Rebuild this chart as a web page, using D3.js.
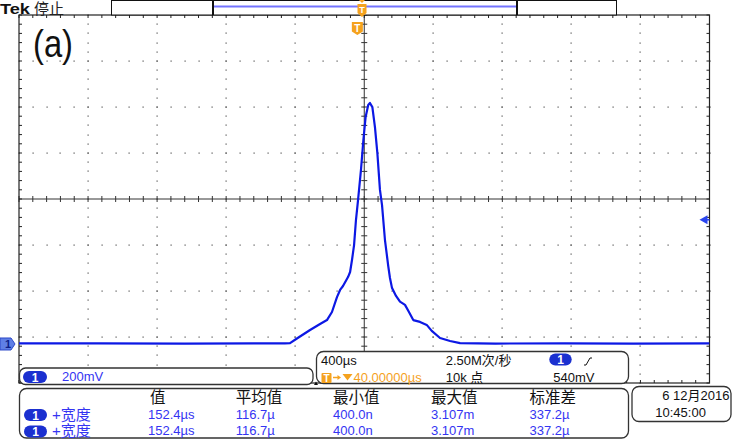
<!DOCTYPE html>
<html><head><meta charset="utf-8">
<script src="https://cdn.jsdelivr.net/npm/d3@7"></script>
<style>
body{margin:0;background:#fff}
svg{display:block}
text{font-family:"Liberation Sans","Noto Sans CJK SC",sans-serif}
</style>
</head><body><svg id="c" width="736" height="441"></svg>
<script>
// ---- data ----
const timeUs = [-1960,-1500,-1000,-600,-420,-390,-350,-274,-216,-176,-147,-118,-100,-83,-54,-42,-31,-19,-8,4,21,35,48,63,73,87,102,116,131,143,160,179,189,201,224,247,276,299,324,363,402,431,479,537,595,800,1200,1600,2040];
const volts  = [0.003,0.003,0.002,0.003,0.003,0.004,0.024,0.061,0.087,0.104,0.139,0.204,0.235,0.252,0.291,0.313,0.365,0.430,0.539,0.626,0.757,0.887,0.987,1.039,1.048,1.030,0.943,0.830,0.670,0.604,0.452,0.339,0.287,0.243,0.209,0.184,0.170,0.139,0.104,0.096,0.083,0.057,0.026,0.013,0.004,0.002,0.003,0.002,0.003];
const measHeaders = ["值","平均值","最小值","最大值","标准差"];
const measName = "+宽度";
const measRow1 = ["152.4µs","116.7µ","400.0n","3.107m","337.2µ"];
const measRow2 = ["152.4µs","116.7µ","400.0n","3.107m","337.2µ"];
const chScaleLabel = "200mV";
const timebaseLabel = "400µs";
const sampleRateLabel = "2.50M次/秒";
const recordLabel = "10k 点";
const trigPosLabel = "40.00000µs";
const trigLevelLabel = "540mV";
const dateLabel = "6 12月2016";
const clockLabel = "10:45:00";
const voltsPerDiv = 0.2, usPerDiv = 400, groundDiv = -3.152, trigOffsetUs = 40, trigLevelV = 0.54;

// ---- layout ----
const L = 19, R = 709.5, T = 15, B = 383;
const svg = d3.select("#c");
const blue = "#0c18e4", textBlue = "#3434f2", pillBlue = "#1b30d0", orange = "#f5a21e";

const xDiv = d3.scaleLinear().domain([-5,5]).range([L,R]);
const yDiv = d3.scaleLinear().domain([-4,4]).range([B,T]);
const x = d3.scaleLinear().domain([trigOffsetUs-5*usPerDiv, trigOffsetUs+5*usPerDiv]).range([L,R]);
const y = d3.scaleLinear().domain([(-4-groundDiv)*voltsPerDiv,(4-groundDiv)*voltsPerDiv]).range([B,T]);

// grid dots
const grid = svg.append("g");
const minorX = d3.range(-25,26).map(d=>d/5), minorY = d3.range(-20,21).map(d=>d/5);
[-4,-3,-2,-1,1,2,3,4].forEach(i=>{
  minorY.forEach(j=>grid.append("rect").attr("x",Math.round(xDiv(i))-0.5).attr("y",Math.round(yDiv(j))-0.5).attr("width",1.2).attr("height",1.2).attr("fill","#555"));
});
[-3,-2,-1,1,2,3].forEach(k=>{
  minorX.forEach(j=>grid.append("rect").attr("x",Math.round(xDiv(j))-0.5).attr("y",Math.round(yDiv(k))-0.5).attr("width",1.2).attr("height",1.2).attr("fill","#555"));
});
// center cross
const cx = xDiv(0), cy = yDiv(0);
grid.append("line").attr("x1",cx).attr("x2",cx).attr("y1",T).attr("y2",B).attr("stroke","#333").attr("stroke-width",1);
grid.append("line").attr("x1",L).attr("x2",R).attr("y1",cy).attr("y2",cy).attr("stroke","#333").attr("stroke-width",1);
minorY.forEach(j=>grid.append("line").attr("x1",cx-3).attr("x2",cx+3).attr("y1",yDiv(j)).attr("y2",yDiv(j)).attr("stroke","#333"));
minorX.forEach(j=>grid.append("line").attr("y1",cy-3).attr("y2",cy+3).attr("x1",xDiv(j)).attr("x2",xDiv(j)).attr("stroke","#333"));
// border
grid.append("rect").attr("x",L).attr("y",T).attr("width",R-L).attr("height",B-T).attr("fill","none").attr("stroke","#222").attr("stroke-width",1.2);
minorX.forEach(j=>{
  grid.append("line").attr("x1",xDiv(j)).attr("x2",xDiv(j)).attr("y1",T).attr("y2",T+3).attr("stroke","#222");
  grid.append("line").attr("x1",xDiv(j)).attr("x2",xDiv(j)).attr("y1",B).attr("y2",B-3).attr("stroke","#222");
});
minorY.forEach(j=>{
  grid.append("line").attr("y1",yDiv(j)).attr("y2",yDiv(j)).attr("x1",L).attr("x2",L+3).attr("stroke","#222");
  grid.append("line").attr("y1",yDiv(j)).attr("y2",yDiv(j)).attr("x1",R).attr("x2",R-3).attr("stroke","#222");
});

// trace
svg.append("clipPath").attr("id","pc").append("rect").attr("x",L).attr("y",T).attr("width",R-L).attr("height",B-T);
const pts = timeUs.map((t,i)=>[t,volts[i]]);
svg.append("path").datum(pts).attr("clip-path","url(#pc)")
  .attr("d",d3.line().x(d=>x(d[0])).y(d=>y(d[1])))
  .attr("fill","none").attr("stroke",blue).attr("stroke-width",2.2).attr("stroke-linejoin","round");

// ground marker (left)
const gy = y(0);
svg.append("path").attr("d",`M0,${gy-6} L11,${gy-6} L15,${gy} L11,${gy+6} L0,${gy+6} Z`).attr("fill","#5f7fe6").attr("stroke","#2d49c8");
svg.append("text").attr("x",5).attr("y",gy+4.5).attr("font-size",11).attr("font-weight","bold").attr("fill","#0d1f8a").text("1");
// trigger level marker (right)
const ty = y(trigLevelV);
svg.append("path").attr("d",`M${R-10},${ty} L${R-2},${ty-4.5} L${R-2},${ty+4.5} Z`).attr("fill","#2a45f0");
svg.append("line").attr("x1",R-3).attr("x2",R).attr("y1",ty).attr("y2",ty).attr("stroke","#2a45f0").attr("stroke-width",1.5);

// header
svg.append("text").attr("x",0).attr("y",13.5).attr("font-size",14.5).attr("font-weight","bold").attr("textLength",30).attr("lengthAdjust","spacingAndGlyphs").attr("fill","#111").text("Tek");
svg.append("text").attr("x",34).attr("y",13.5).attr("font-size",15).attr("fill","#222").attr("font-family","Noto Sans CJK SC").text("停止");
// record bar
svg.append("rect").attr("x",111.5).attr("y",0.5).attr("width",505).attr("height",14.5).attr("fill","#fff").attr("stroke","#111");
svg.append("line").attr("x1",214).attr("x2",516).attr("y1",6.5).attr("y2",6.5).attr("stroke","#7474ff").attr("stroke-width",2);
svg.append("line").attr("x1",213).attr("x2",213).attr("y1",0).attr("y2",15).attr("stroke","#111").attr("stroke-width",2);
svg.append("line").attr("x1",517).attr("x2",517).attr("y1",0).attr("y2",15).attr("stroke","#111").attr("stroke-width",2);
// trigger marker in record bar
const tbx = 362;
svg.append("path").attr("d",`M${tbx-3},0 L${tbx+3},0 L${tbx},3 Z`).attr("fill",orange);
svg.append("path").attr("d",`M${tbx-4.5},4 L${tbx+4.5},4 L${tbx+4.5},13 L${tbx},17 L${tbx-4.5},13 Z`).attr("fill",orange);
svg.append("text").attr("x",tbx).attr("y",12.5).attr("text-anchor","middle").attr("font-size",9).attr("font-weight","bold").attr("fill","#fff").text("T");
// trigger position marker below top
const tpx = x(0);
svg.append("path").attr("d",`M${tpx-5.5},22 L${tpx+5.5},22 L${tpx+5.5},31.5 L${tpx},35 L${tpx-5.5},31.5 Z`).attr("fill",orange);
svg.append("text").attr("x",tpx).attr("y",31.5).attr("text-anchor","middle").attr("font-size",10).attr("font-weight","bold").attr("fill","#fff").text("T");

// (a) label
svg.append("text").attr("x",33).attr("y",57).attr("font-family","'DejaVu Sans ExtraLight','Lato','Roboto'").attr("font-weight",200).attr("font-size",38).attr("textLength",40).attr("lengthAdjust","spacingAndGlyphs").attr("fill","#111").text("(a)");

// ---- panels ----
function panel(x0,y0,w,h,r){
  svg.append("rect").attr("x",x0).attr("y",y0).attr("width",w).attr("height",h).attr("rx",r).attr("fill","#fff").attr("stroke","#333").attr("stroke-width",1.3);
}
function pill(x0,y0,w,h){
  svg.append("rect").attr("x",x0).attr("y",y0).attr("width",w).attr("height",h).attr("rx",h/2).attr("fill",pillBlue);
  svg.append("text").attr("x",x0+w/2).attr("y",y0+h-1.5).attr("text-anchor","middle").attr("font-size",12).attr("font-weight","bold").attr("fill","#fff").text("1");
}
function txt(x0,y0,s,col,size,anchor){
  return svg.append("text").attr("x",x0).attr("y",y0).attr("font-size",size||12.5).attr("fill",col||"#111").attr("text-anchor",anchor||"start").text(s);
}
// panel 1: channel scale
panel(19.5,368,293.5,16.5,6);
pill(23,371,24,12);
txt(62,381,chScaleLabel,textBlue,13);
// panel 2: timebase / trigger
panel(316.5,351.5,312,32,7);
svg.append("path").attr("d","M314,385 L318,385 L316,381.5 Z").attr("fill","#111");
txt(321,365,timebaseLabel,"#111",13);
svg.append("rect").attr("x",321.5).attr("y",373).attr("width",10).attr("height",10).attr("rx",1).attr("fill",orange);
svg.append("text").attr("x",326.5).attr("y",381.5).attr("text-anchor","middle").attr("font-size",10).attr("font-weight","bold").attr("fill","#fff").text("T");
svg.append("line").attr("x1",333).attr("x2",339).attr("y1",377.5).attr("y2",377.5).attr("stroke",orange).attr("stroke-width",1.5);
svg.append("path").attr("d","M341,377.5 L337.5,375 L337.5,380 Z").attr("fill",orange);
svg.append("path").attr("d","M342.5,374 L352.5,374 L347.5,380.5 Z").attr("fill",orange);
txt(353.5,382,trigPosLabel,orange,13);
txt(445.7,365,sampleRateLabel,"#111",13);
txt(445.7,382,recordLabel,"#111",13);
pill(549.3,353.5,22.4,12);
svg.append("path").attr("d","M584,365 L586,365 L590,358 L592,358").attr("fill","none").attr("stroke","#111").attr("stroke-width",1);
txt(553.3,381.5,trigLevelLabel,"#111",13);
// panel 3: measurements
panel(19.5,388.5,609,49.5,7);
const colX = [150,235.7,333,431,529.5];
measHeaders.forEach((h,i)=>txt(colX[i],403,h,"#111",15.5));
[[measRow1,409,420],[measRow2,425.5,436]].forEach(([row,py,by])=>{
  pill(24,py,23,12);
  txt(52,by,measName,textBlue,15);
  row.forEach((v,i)=>txt(colX[i]-(i===0?2:0),by-1,v,textBlue,13));
});
// panel 4: date
panel(632,386.5,99,35,7);
txt(729.5,400,dateLabel,"#111",13,"end");
txt(655.3,416.5,clockLabel,"#111",13);
</script>
</body></html>
